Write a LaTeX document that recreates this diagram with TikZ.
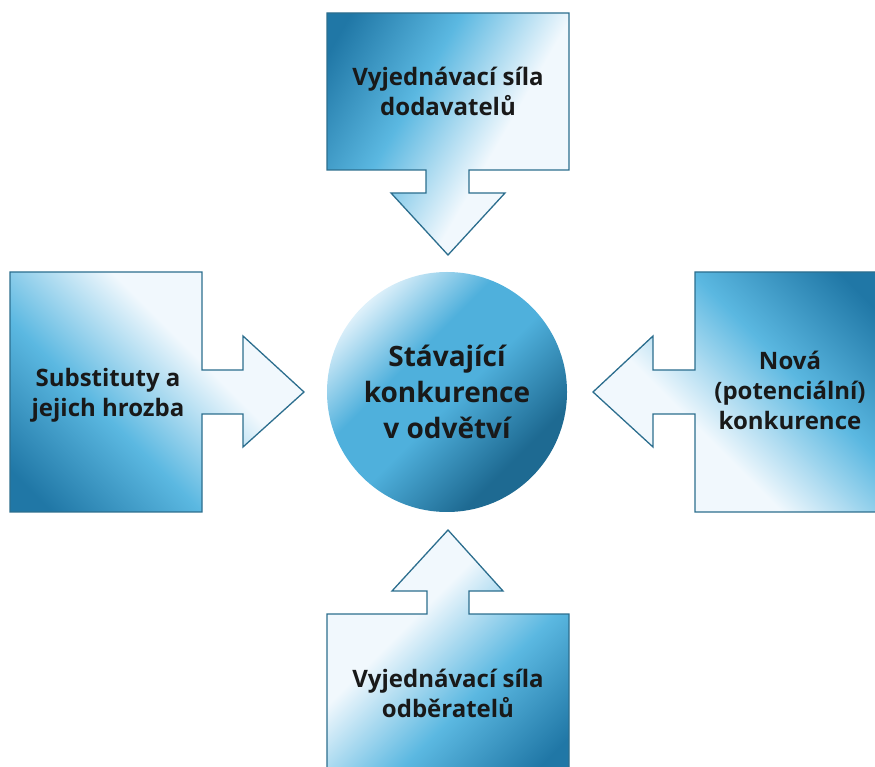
\documentclass[tikz,border=0pt]{standalone}
\usepackage{fontspec}
\setmainfont{Open Sans}

\definecolor{blueDark}{HTML}{2077A6}
\definecolor{blueMid}{HTML}{5BB8E1}
\definecolor{bluePale}{HTML}{F1F8FD}
\definecolor{blueEdge}{HTML}{2C6E8E}
\definecolor{ballDark}{HTML}{1E6A92}
\definecolor{ballMid}{HTML}{4FB0DC}
\definecolor{ballPale}{HTML}{DDF0FA}

\pgfdeclareverticalshading{forceshade}{100bp}{color(0bp)=(bluePale); color(40bp)=(bluePale);
  color(60bp)=(blueMid); color(80bp)=(blueDark); color(100bp)=(blueDark)}
\pgfdeclareverticalshading{ballshade}{100bp}{color(0bp)=(ballDark); color(30bp)=(ballDark);
  color(48bp)=(ballMid); color(60bp)=(ballMid); color(75bp)=(ballPale); color(100bp)=(ballPale)}

\begin{document}
\begin{tikzpicture}[x=1pt,y=1pt,
    force/.style={draw=blueEdge,line width=1.3pt,line join=miter,shading=forceshade},
    label/.style={font=\bfseries\fontsize{24}{30}\selectfont,align=center,text=black!90}]
  \useasboundingbox (0,0) rectangle (875,766);
  \clip (0,0) rectangle (875,766);
  % stavajici konkurence
  \node[circle,minimum size=240pt,inner sep=0pt,shading=ballshade,shading angle=45,
    align=center,text=black!90,font=\bfseries\fontsize{28}{36}\selectfont] (rivalry) at (447,374)
    {Stávající\\konkurence\\v odvětví};
  % dodavatele
  \path[force,shading angle=60] (327,753) -- (569,753) -- (569,596) -- (469,596) -- (469,573)
    -- (505,573) -- (448,511) -- (391,573) -- (426,573) -- (426,596) -- (327,596) -- cycle;
  \node[label] (supplier) at (448,675) {Vyjednávací síla\\dodavatelů};
  % substituty
  \path[force,shading angle=135] (10,494) -- (202,494) -- (202,396) -- (243,396) -- (243,430)
    -- (304,374) -- (243,319) -- (243,352) -- (202,352) -- (202,254) -- (10,254) -- cycle;
  \node[label] (substitutes) at (108,371) {Substituty a\\jejich hrozba};
  % nova konkurence
  \path[force,shading angle=-45] (880,494) -- (695,494) -- (695,396) -- (653,396) -- (653,430)
    -- (593,374) -- (653,319) -- (653,352) -- (695,352) -- (695,254) -- (880,254) -- cycle;
  \node[label] (entrants) at (790,376) {Nová\\(potenciální)\\konkurence};
  % odberatele
  \path[force,shading angle=-135] (327,-10) -- (327,152) -- (427,152) -- (427,175) -- (392,175)
    -- (448,236) -- (503,175) -- (469,175) -- (469,152) -- (569,152) -- (569,-10) -- cycle;
  \node[label] (buyers) at (448,73) {Vyjednávací síla\\odběratelů};
\end{tikzpicture}
\end{document}
